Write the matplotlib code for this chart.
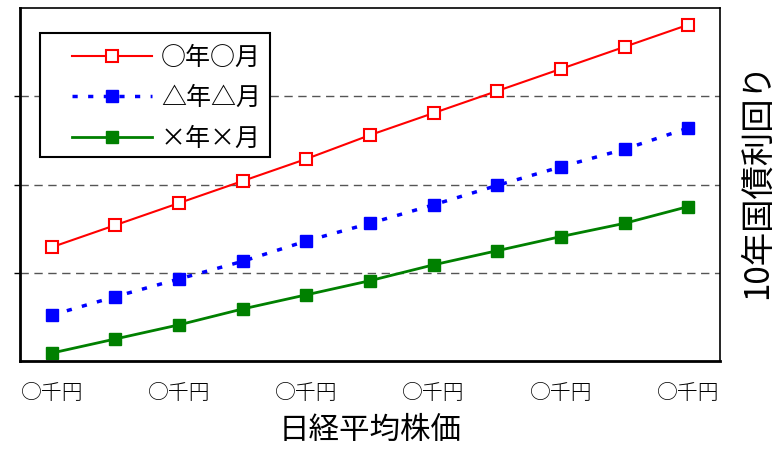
import numpy as np
from matplotlib import pyplot as plt
from matplotlib.patches import Rectangle

plt.rcParams['font.family'] = ['Noto Sans CJK JP', 'DejaVu Sans']

# data (gridlines at 1, 2, 3)
x_pos = np.arange(11)
tick_pos = [0, 2, 4, 6, 8, 10]
tick_labels = ['○千円'] * 6
red_vals = [1.29, 1.54, 1.79, 2.04, 2.29, 2.56, 2.81, 3.06, 3.31, 3.56, 3.81]
blue_vals = [0.52, 0.73, 0.93, 1.13, 1.36, 1.56, 1.77, 1.99, 2.20, 2.40, 2.64]
green_vals = [0.09, 0.25, 0.41, 0.59, 0.75, 0.91, 1.09, 1.25, 1.41, 1.56, 1.75]
labels = ['○年○月', '△年△月', '×年×月']

fig = plt.figure(figsize=(7.78, 4.49), dpi=100)
ax = fig.add_axes([20 / 778, 1 - 361 / 449, 700 / 778, 353 / 449])

ax.plot(x_pos, red_vals, color='red', lw=1.5, marker='s', ms=8,
        mfc='white', mec='red', mew=1.5, label=labels[0])
ax.plot(x_pos, blue_vals, color='blue', lw=2.5, ls=(0, (1.5, 3)),
        marker='s', ms=9, mfc='blue', mec='blue', label=labels[1])
ax.plot(x_pos, green_vals, color='green', lw=2, marker='s', ms=9,
        mfc='green', mec='green', label=labels[2])

ax.set_xlim(-0.5, 10.5)
ax.set_ylim(0, 4)
ax.set_yticks([1, 2, 3])
ax.set_yticklabels([])
ax.tick_params(axis='y', direction='out', length=4, width=1)
ax.set_xticks(tick_pos)
ax.set_xticklabels(tick_labels, fontsize=15, fontweight='light')
ax.tick_params(axis='x', length=0, pad=15)
for y in [1, 2, 3]:
    ax.axhline(y, color='#555555', lw=1, ls=(0, (6, 4)), zorder=0)

for side in ['left', 'bottom']:
    ax.spines[side].set_linewidth(2)
for side in ['top', 'right']:
    ax.spines[side].set_linewidth(1.2)

ax.set_xlabel('日経平均株価', fontsize=22, labelpad=8)
ax.yaxis.set_label_position('right')
ax.set_ylabel('10年国債利回り', fontsize=24)
ax.yaxis.set_label_coords(1.028, 0.51)

# legend frame drawn separately so the padding can differ per side
box = Rectangle((0.0286, 0.578), 0.3286, 0.351, transform=ax.transAxes,
                facecolor='white', edgecolor='black', lw=1.5, zorder=4)
ax.add_patch(box)
leg = ax.legend(loc='upper left', bbox_to_anchor=(0.0743, 0.896), fontsize=18,
                handlelength=3.2, frameon=False, borderpad=0,
                labelspacing=0.58, handletextpad=0.35, borderaxespad=0)
leg.set_zorder(5)

fig.savefig('out.png', dpi=100)
